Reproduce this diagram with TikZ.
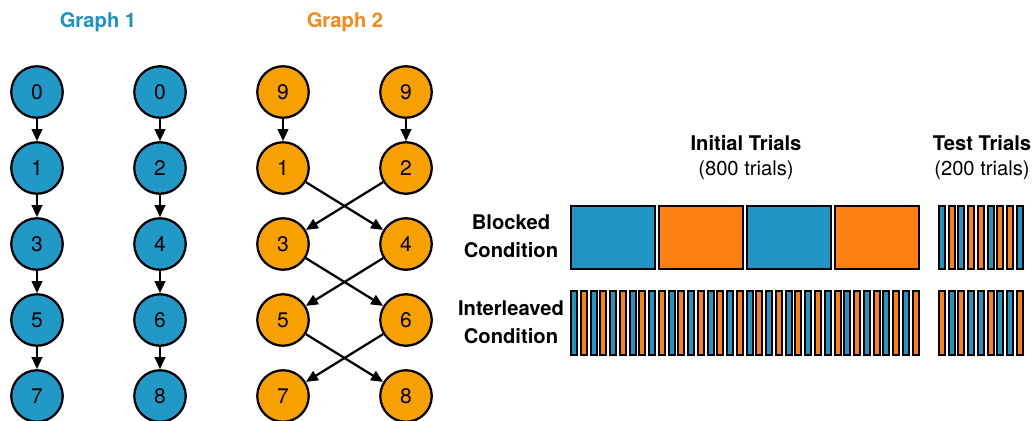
\documentclass[tikz,border=0pt]{standalone}
\usepackage{fontspec}
\setmainfont{TeX Gyre Heros}
\usepackage{xcolor}
\usetikzlibrary{arrows.meta}

\definecolor{nodeBlue}{RGB}{33,153,199}
\definecolor{nodeOrange}{RGB}{247,161,0}
\definecolor{titleBlue}{RGB}{31,144,192}
\definecolor{titleOrange}{RGB}{242,137,28}
\definecolor{barBlue}{RGB}{33,150,197}
\definecolor{barOrange}{RGB}{253,128,18}

\begin{document}
\begin{tikzpicture}[x=0.02cm, y=-0.02cm,
		vertex/.style={circle, draw=black, line width=0.045cm, minimum size=1.03cm, inner sep=0pt, font=\fontsize{12}{14}\selectfont},
		edge/.style={-{Triangle[length=0.24cm, width=0.21cm]}, line width=0.045cm},
		head/.style={align=center, font=\fontsize{11.5}{14.2}\selectfont},
		rowlab/.style={align=center, font=\bfseries\fontsize{11.5}{15.8}\selectfont},
		bar/.style={draw=black, line width=0.04cm}]
				\def\rowTop{92}
				\def\rowGap{76}
				\def\stripW{6}

				\useasboundingbox (0,0) rectangle (1032,420);

				% graph titles
				\node[head, font=\bfseries\fontsize{11.5}{14}\selectfont, text=titleBlue] (titleA) at (98,22) {Graph 1};
				\node[head, font=\bfseries\fontsize{11.5}{14}\selectfont, text=titleOrange] (titleB) at (345,22) {Graph 2};

				\begin{scope}[every node/.style={vertex, fill=nodeBlue}]
					\foreach \lab [count=\i from 0] in {0,1,3,5,7}
						\node (gAl\i) at (37,\rowTop+\rowGap*\i) {\lab};
					\foreach \lab [count=\i from 0] in {0,2,4,6,8}
						\node (gAr\i) at (160,\rowTop+\rowGap*\i) {\lab};
				\end{scope}

				\begin{scope}[every node/.style={vertex, fill=nodeOrange}]
					\foreach \lab [count=\i from 0] in {9,1,3,5,7}
						\node (gBl\i) at (283,\rowTop+\rowGap*\i) {\lab};
					\foreach \lab [count=\i from 0] in {9,2,4,6,8}
						\node (gBr\i) at (406,\rowTop+\rowGap*\i) {\lab};
				\end{scope}

				\begin{scope}[edge]
					\foreach \i [count=\j from 1] in {0,...,3} {
						\draw (gAl\i) -- (gAl\j);
						\draw (gAr\i) -- (gAr\j);
					}
					\draw (gBl0) -- (gBl1);
					\draw (gBr0) -- (gBr1);
					\foreach \i [count=\j from 2] in {1,...,3} {
						\draw (gBl\i) -- (gBr\j);
						\draw (gBr\i) -- (gBl\j);
					}
				\end{scope}

				% trial headers
				\node[head] (initHead) at (746,158) {\textbf{Initial Trials}\\(800 trials)};
				\node[head] (testHead) at (982,158) {\textbf{Test Trials}\\(200 trials)};

				\node[rowlab] (blockedLab) at (511,236) {Blocked\\Condition};
				\node[rowlab] (interLab) at (511,322) {Interleaved\\Condition};

				\begin{scope}[bar]
					\foreach \c [count=\k from 0] in {barBlue,barOrange,barBlue,barOrange}
						\draw[fill=\c] (571+88*\k,206) rectangle ++(84,63);
					\foreach \k in {0,2,...,34} {
						\draw[fill=barBlue] (571+9.76*\k,291) rectangle ++(\stripW,64);
						\draw[fill=barOrange] (571+9.76*\k+9.76,291) rectangle ++(\stripW,64);
					}
					\foreach \c [count=\k from 0] in {barBlue,barOrange,barBlue,barOrange,barOrange,barBlue,barOrange,barOrange,barBlue}
						\draw[fill=\c] (939+9.7*\k,206) rectangle ++(\stripW,63);
					\foreach \c [count=\k from 0] in {barOrange,barBlue,barOrange,barBlue,barBlue,barOrange,barBlue,barBlue,barOrange}
						\draw[fill=\c] (939+9.7*\k,291) rectangle ++(\stripW,64);
				\end{scope}
			\end{tikzpicture}
\end{document}
